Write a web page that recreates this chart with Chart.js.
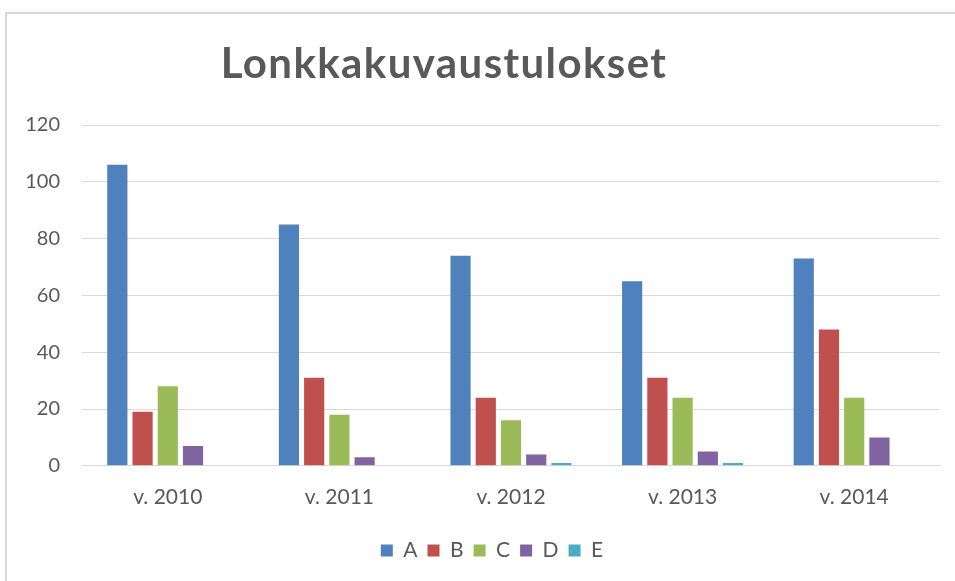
<!DOCTYPE html>
<html>
<head>
<meta charset="utf-8">
<script src="https://cdn.jsdelivr.net/npm/chart.js@4.4.0/dist/chart.umd.min.js"></script>
<style>
  html, body { margin: 0; padding: 0; background: #fff; }
  #wrap { position: relative; width: 955px; height: 581px; overflow: hidden; }
  #frame { position: absolute; left: 5px; top: 12px; width: 1000px; height: 1000px; border: 2px solid #d9d9d9; box-sizing: border-box; }
  canvas { position: absolute; left: 0; top: 0; }
</style>
</head>
<body>
<div id="wrap">
  <div id="frame"></div>
  <canvas id="c" width="955" height="581"></canvas>
</div>
<script>
const chartTitle = "Lonkkakuvaustulokset";
const categories = ["v. 2010", "v. 2011", "v. 2012", "v. 2013", "v. 2014"];
const seriesNames = ["A", "B", "C", "D", "E"];
const seriesA = [106, 85, 74, 65, 73];
const seriesB = [19, 31, 24, 31, 48];
const seriesC = [28, 18, 16, 24, 24];
const seriesD = [7, 3, 4, 5, 10];
const seriesE = [0, 0, 1, 1, 0];
const yTicks = [0, 20, 40, 60, 80, 100, 120];

const colors = ["#4F81BD", "#C0504D", "#9BBB59", "#8064A2", "#4BACC6"];
const allSeries = [seriesA, seriesB, seriesC, seriesD, seriesE];

const titlePlugin = {
  id: 'excelTitle',
  afterLayout(chart) {
    // Excel places the legend slightly right of the canvas centre
    if (chart.legend) { chart.legend.left += 22; chart.legend.right += 22; }
  },
  afterDraw(chart) {
    const ctx = chart.ctx;
    ctx.save();
    ctx.font = "bold 42px Lato";
    try { ctx.letterSpacing = "1.4px"; } catch (e) {}
    ctx.fillStyle = "#595959";
    ctx.textAlign = "center";
    ctx.textBaseline = "alphabetic";
    ctx.fillText(chartTitle, 444, 78);
    ctx.restore();
  }
};

new Chart(document.getElementById('c'), {
  type: 'bar',
  data: {
    labels: categories,
    datasets: seriesNames.map((n, i) => ({
      label: n,
      data: allSeries[i],
      backgroundColor: colors[i],
      borderWidth: 0,
      categoryPercentage: 0.735,
      barPercentage: 0.8
    }))
  },
  options: {
    responsive: false,
    animation: false,
    devicePixelRatio: 1,
    layout: { padding: { top: 125, left: 0, right: 15, bottom: 10 } },
    plugins: {
      title: { display: false },
      tooltip: { enabled: false },
      legend: {
        position: 'bottom',
        labels: {
          boxWidth: 12, boxHeight: 12,
          color: '#595959',
          font: { family: 'Lato', size: 21 },
          padding: 10
        }
      }
    },
    scales: {
      x: {
        afterFit(s) { s.height += 1; },
        grid: { display: false, drawTicks: false },
        border: { display: true, color: '#d9d9d9', width: 1 },
        ticks: { color: '#595959', font: { family: 'Lato', size: 21 }, padding: 19, maxRotation: 0 }
      },
      y: {
        min: 0, max: 120,
        afterFit(s) { s.width = 82; },
        afterBuildTicks(s) { s.ticks = yTicks.map(v => ({ value: v })); },
        grid: { color: '#d9d9d9', drawTicks: false },
        border: { display: false },
        ticks: { color: '#595959', font: { family: 'Lato', size: 20 }, padding: 22 }
      }
    }
  },
  plugins: [titlePlugin]
});
</script>
</body>
</html>
